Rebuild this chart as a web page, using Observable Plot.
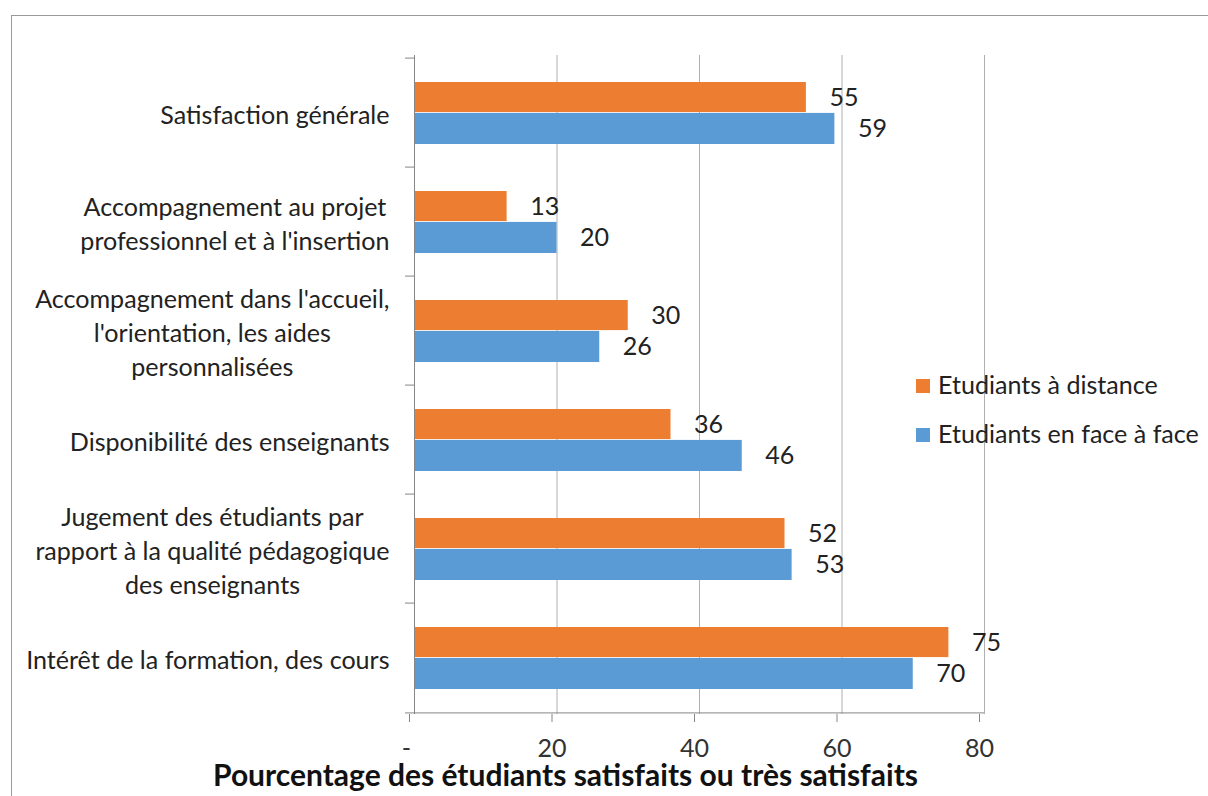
<!DOCTYPE html>
<html>
<head>
<meta charset="utf-8">
<script src="https://cdn.jsdelivr.net/npm/d3@7"></script>
<script src="https://cdn.jsdelivr.net/npm/@observablehq/plot@0.6"></script>
<style>
html, body { margin: 0; padding: 0; background: #fff; overflow: hidden; }
#wrap { position: relative; width: 1208px; height: 796px; overflow: hidden; background: #fff; }
#border { position: absolute; left: 11px; top: 15px; width: 1400px; height: 1000px;
  border-left: 1px solid #9a9a9a; border-top: 1px solid #9a9a9a; }
#chart { position: absolute; left: 0; top: 0; }
.leg { position: absolute; left: 916px; font-family: Lato, sans-serif; color: #222; white-space: nowrap; }
.leg .sw { position: absolute; left: 0; width: 14px; height: 14px; }
.leg .lab { position: absolute; left: 22px; line-height: 1; }
</style>
</head>
<body>
<div id="wrap">
  <div id="border"></div>
  <div id="chart"></div>
  <div id="legend"></div>
</div>
<script>
// ---- data ----
const categories = [
  "Satisfaction générale",
  "Accompagnement au projet\nprofessionnel et à l'insertion",
  "Accompagnement dans l'accueil,\nl'orientation, les aides\npersonnalisées",
  "Disponibilité des enseignants",
  "Jugement des étudiants par\nrapport à la qualité pédagogique\ndes enseignants",
  "Intérêt de la formation, des cours"
];
const series = ["Etudiants à distance", "Etudiants en face à face"];
const distance = [55, 13, 30, 36, 52, 75];
const faceAFace = [59, 20, 26, 46, 53, 70];
const colors = ["#ED7D31", "#5B9BD5"];
const xTicks = [0, 20, 40, 60, 80];
const axisTitle = "Pourcentage des étudiants satisfaits ou très satisfaits";

// ---- layout helpers ----
const FAMILY = "Lato";
const ctx = document.createElement("canvas").getContext("2d");
function textWidth(s, size, weight = "normal") {
  ctx.font = `${weight} ${size}px ${FAMILY}`;
  return ctx.measureText(s).width;
}
const fs = 303 / textWidth("Accompagnement au projet", 100) * 100;
const titleFs = 705 / textWidth(axisTitle, 100, "bold") * 100;

const rows = categories.flatMap((c, i) => [
  {cat: c, series: series[0], value: distance[i]},
  {cat: c, series: series[1], value: faceAFace[i]}
]);

const W = 1208, H = 796, mL = 414, mR = 224, mT = 55, mB = 82;
const band = (H - mT - mB) / categories.length;
const TXT = "#222";
const AX = "#868686";

const labelMarks = categories.map(c => {
  const w = d3.max(c.split("\n"), l => textWidth(l, fs));
  return Plot.text([c], {
    y: d => d, text: d => d, frameAnchor: "left",
    textAnchor: "middle", lineAnchor: "middle",
    dx: -(25 + w / 2), fontSize: fs, lineHeight: 34 / fs, fill: TXT
  });
});

const chart = Plot.plot({
  width: W, height: H,
  marginLeft: mL, marginRight: mR, marginTop: mT, marginBottom: mB,
  style: {fontFamily: FAMILY, background: "transparent", overflow: "visible"},
  x: {domain: [0, 80], axis: null, label: null},
  y: {domain: categories, type: "band", padding: 0, axis: null, label: null},
  color: {domain: series, range: colors},
  marks: [
    Plot.gridX(xTicks.slice(1), {stroke: "#b0b0b0", strokeOpacity: 1, strokeWidth: 1}),
    Plot.barX(rows.filter(d => d.series === series[0]), {
      x: "value", y: "cat", fill: "series", insetTop: 24, insetBottom: band / 2
    }),
    Plot.barX(rows.filter(d => d.series === series[1]), {
      x: "value", y: "cat", fill: "series", insetTop: band / 2, insetBottom: 23
    }),
    Plot.ruleX([0], {stroke: AX, strokeWidth: 1}),
    Plot.ruleY([categories[categories.length - 1]], {x1: 0, x2: 80, dy: band / 2, stroke: AX}),
    Plot.axisY(categories, {tickSize: 9, dy: -band / 2, tickFormat: () => "", stroke: AX, label: null}),
    Plot.axisY([categories[categories.length - 1]], {tickSize: 9, dy: band / 2, tickFormat: () => "", stroke: AX, label: null}),
    Plot.axisX(xTicks, {
      tickSize: 8, tickPadding: 17, dx: -5, stroke: AX, fill: "#333", fontSize: fs, label: null,
      tickFormat: d => d === 0 ? "-\u00a0" : String(d)
    }),
    Plot.text(rows.filter(d => d.series === series[0]), {
      x: "value", y: "cat", text: d => String(d.value), dx: 23, dy: -15.5,
      textAnchor: "start", fontSize: fs, fill: TXT
    }),
    Plot.text(rows.filter(d => d.series === series[1]), {
      x: "value", y: "cat", text: d => String(d.value), dx: 23, dy: 16,
      textAnchor: "start", fontSize: fs, fill: TXT
    }),
    ...labelMarks,
    Plot.text([axisTitle], {
      frameAnchor: "bottom", text: d => d, dx: 565 - (mL + (W - mR)) / 2, dy: 62,
      lineAnchor: "middle", fontWeight: "bold", fontSize: titleFs, fill: "#111"
    })
  ]
});
document.getElementById("chart").appendChild(chart);

// ---- legend ----
const legend = document.getElementById("legend");
const legTops = [386, 435];
series.forEach((s, i) => {
  const item = document.createElement("div");
  item.className = "leg";
  item.style.top = (legTops[i] - 7) + "px";
  item.innerHTML = `<div class="sw" style="background:${colors[i]};top:0"></div>` +
    `<div class="lab" style="font-size:${fs}px;top:${7 - fs * 0.55}px">${s}</div>`;
  legend.appendChild(item);
});
</script>
</body>
</html>
